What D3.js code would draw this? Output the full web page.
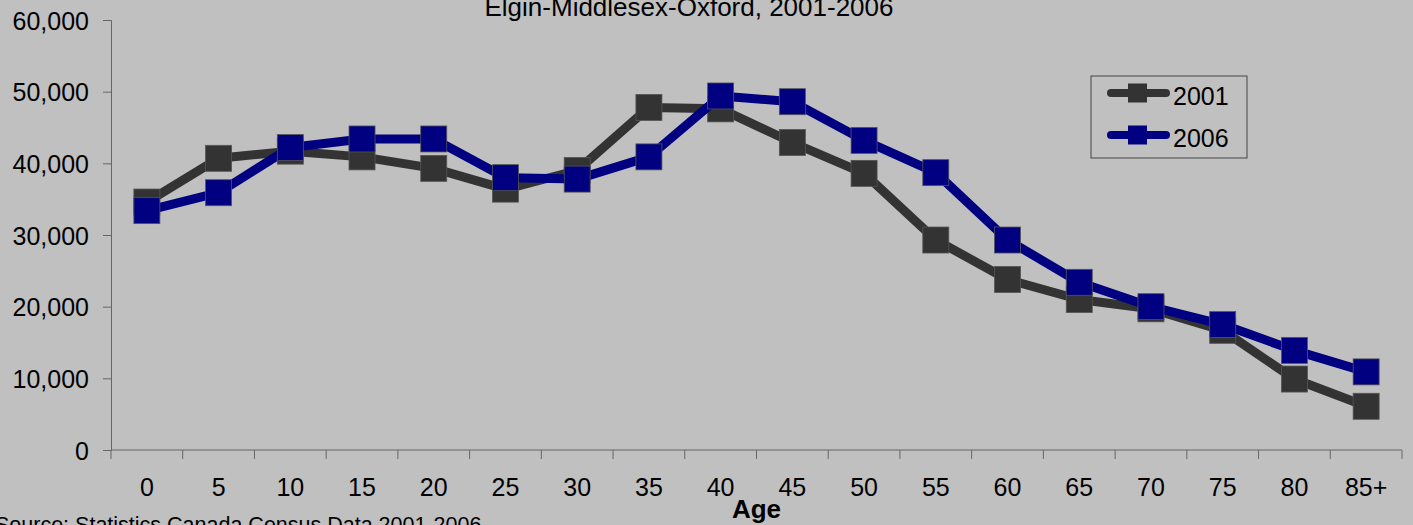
<!DOCTYPE html>
<html>
<head>
<meta charset="utf-8">
<script src="https://cdn.jsdelivr.net/npm/d3@7"></script>
<style>
  html, body { margin: 0; padding: 0; background: #c0c0c0; }
  svg { display: block; font-family: "Liberation Sans", Arial, sans-serif; }
</style>
</head>
<body>
<div id="chart"></div>
<script>
// age groups on the x axis
const ages = ["0", "5", "10", "15", "20", "25", "30", "35", "40", "45", "50", "55", "60", "65", "70", "75", "80", "85+"];

// population counts
const pop2001 = [34600, 40700, 41700, 40900, 39300, 36400, 39000, 47800, 47600, 42900, 38600, 29300, 23800, 21000, 19700, 16700, 9900, 6100];
const pop2006 = [33400, 35900, 42200, 43400, 43400, 38000, 37800, 40900, 49400, 48600, 43200, 38700, 29300, 23400, 20000, 17500, 13900, 10900];

const yTicks = [0, 10000, 20000, 30000, 40000, 50000, 60000];

const seriesNames = ["2001", "2006"];
const seriesColors = ["#333333", "#000080"];

const width = 1413;
const height = 525;
const margins = { top: 20, right: 11, bottom: 75, left: 111 };

const svg = d3.select("#chart")
  .append("svg")
  .attr("width", width)
  .attr("height", height);

svg.append("rect")
  .attr("width", width)
  .attr("height", height)
  .attr("fill", "#c0c0c0");

const xScale = d3.scaleBand()
  .domain(ages)
  .range([margins.left, width - margins.right])
  .padding(0);

const yScale = d3.scaleLinear()
  .domain([0, 60000])
  .range([height - margins.bottom, margins.top]);

const format = d3.format(",");

// y axis
const yAxis = svg.append("g")
  .attr("transform", `translate(${margins.left},0)`)
  .call(d3.axisLeft(yScale).tickValues(yTicks).tickFormat(format).tickSize(8).tickPadding(14));

yAxis.selectAll("path, line").attr("stroke", "#666");
yAxis.selectAll("text")
  .attr("font-size", 25)
  .attr("font-family", "Liberation Sans, Arial, sans-serif")
  .attr("fill", "#000")
  .attr("dy", "0.36em");

// x axis: base line, ticks on band edges, labels centred in bands
const xAxis = svg.append("g")
  .attr("transform", `translate(0,${height - margins.bottom})`);

xAxis.append("line")
  .attr("x1", xScale.range()[0])
  .attr("x2", xScale.range()[1])
  .attr("stroke", "#666");

const edges = ages.map(d => xScale(d)).concat([xScale.range()[1]]);
xAxis.selectAll("line.tick")
  .data(edges)
  .join("line")
  .attr("class", "tick")
  .attr("x1", d => d)
  .attr("x2", d => d)
  .attr("y1", 0)
  .attr("y2", 9)
  .attr("stroke", "#666");

xAxis.selectAll("text")
  .data(ages)
  .join("text")
  .attr("x", d => xScale(d) + xScale.bandwidth() / 2)
  .attr("y", 46)
  .attr("text-anchor", "middle")
  .attr("font-size", 25)
  .attr("fill", "#000")
  .text(d => d);

// titles and notes
svg.append("text")
  .attr("x", 689)
  .attr("y", 16)
  .attr("text-anchor", "middle")
  .attr("font-size", 26)
  .attr("fill", "#000")
  .text("Elgin-Middlesex-Oxford, 2001-2006");

svg.append("text")
  .attr("x", (xScale.range()[0] + xScale.range()[1]) / 2)
  .attr("y", 518)
  .attr("text-anchor", "middle")
  .attr("font-size", 26)
  .attr("font-weight", "bold")
  .attr("fill", "#000")
  .text("Age");

svg.append("text")
  .attr("x", -5)
  .attr("y", 532)
  .attr("font-size", 21.5)
  .attr("fill", "#000")
  .text("Source: Statistics Canada Census Data 2001-2006");

// lines + square markers
const series = [pop2001, pop2006].map((vals, i) => ({
  name: seriesNames[i],
  color: seriesColors[i],
  points: vals.map((v, j) => ({ age: ages[j], value: v }))
}));

const line = d3.line()
  .x(d => xScale(d.age) + xScale.bandwidth() / 2)
  .y(d => yScale(d.value));

const markerSize = 26;

series.forEach(s => {
  const g = svg.append("g");
  g.append("path")
    .datum(s.points)
    .attr("d", line)
    .attr("fill", "none")
    .attr("stroke", s.color)
    .attr("stroke-width", 9)
    .attr("stroke-linejoin", "round");
  g.selectAll("rect")
    .data(s.points)
    .join("rect")
    .attr("x", d => xScale(d.age) + xScale.bandwidth() / 2 - markerSize / 2)
    .attr("y", d => yScale(d.value) - markerSize / 2)
    .attr("width", markerSize)
    .attr("height", markerSize)
    .attr("fill", s.color)
    .attr("stroke", "#555")
    .attr("stroke-width", 0.8);
});

// legend
const legend = svg.append("g");
legend.append("rect")
  .attr("x", 1091)
  .attr("y", 76)
  .attr("width", 156)
  .attr("height", 82)
  .attr("fill", "none")
  .attr("stroke", "#444")
  .attr("stroke-width", 1);

const legendRows = legend.selectAll("g.row")
  .data(series)
  .join("g")
  .attr("class", "row")
  .attr("transform", (d, i) => `translate(0,${93 + i * 42})`);

legendRows.append("line")
  .attr("x1", 1111)
  .attr("x2", 1166)
  .attr("stroke", d => d.color)
  .attr("stroke-width", 8)
  .attr("stroke-linecap", "round");

legendRows.append("rect")
  .attr("x", 1128)
  .attr("y", -9.5)
  .attr("width", 19)
  .attr("height", 19)
  .attr("fill", d => d.color);

legendRows.append("text")
  .attr("x", 1173)
  .attr("y", 12)
  .attr("font-size", 25)
  .attr("fill", "#000")
  .text(d => d.name);
</script>
</body>
</html>
